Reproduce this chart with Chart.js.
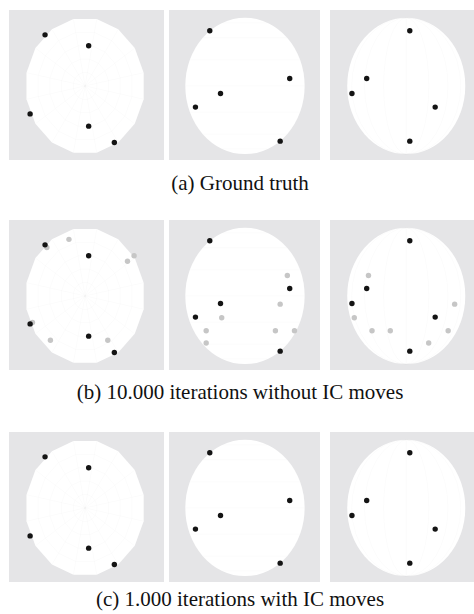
<!DOCTYPE html>
<html>
<head>
<meta charset="utf-8">
<script src="https://cdn.jsdelivr.net/npm/chart.js@4.4.1/dist/chart.umd.min.js"></script>
<style>
    body { margin: 0; background: #ffffff; width: 474px; height: 614px; position: relative; overflow: hidden; }
    canvas { position: absolute; }
    .caption { position: absolute; left: 0; width: 480px; text-align: center;
               font-family: "Liberation Serif", "DejaVu Serif", serif; font-size: 21px; line-height: 21px; color: #111; }
</style>
</head>
<body>
<div class="caption" style="top:173px">(a) Ground truth</div>
<div class="caption" style="top:382px">(b) 10.000 iterations without IC moves</div>
<div class="caption" style="top:589px">(c) 1.000 iterations with IC moves</div>
<script>
"use strict";

// points on the unit sphere: X right, Y up, Z depth
const truthX = [ 0.06, -0.67, -0.92,  0.49,  0.06];
const truthY = [ 0.81,  0.11, -0.11, -0.31, -0.81];
const truthZ = [-0.59,  0.75, -0.41, -0.83,  0.59];

// extra positions left after 10.000 iterations without IC moves (grey)
const noIcX = [-0.64,  0.82, -0.88, -0.58, -0.27,  0.71,  0.38];
const noIcY = [ 0.30, -0.12, -0.32, -0.51, -0.51, -0.51, -0.69];
const noIcZ = [ 0.71,  0.59, -0.39, -0.65,  0.83,  0.51, -0.65];

// result after 1.000 iterations with IC moves
const icX = [ 0.06, -0.67, -0.92,  0.49,  0.06];
const icY = [ 0.81,  0.11, -0.11, -0.31, -0.81];
const icZ = [-0.59,  0.75, -0.41, -0.83,  0.59];

// which two coordinates each column shows
const VIEWS = [
    { h: 'X', v: 'Z', mesh: 'pole' },  // top view
    { h: 'Z', v: 'Y', mesh: 'lat' },   // front view
    { h: 'X', v: 'Y', mesh: 'lon' },   // side view
];

const COLS = [
    { left: 9,   width: 155, cx: 85,    rx: 63 },
    { left: 169, width: 151, cx: 245,   rx: 63 },
    { left: 330, width: 144, cx: 406.5, rx: 62.5 },
];
const ROW_TOPS = [10, 220, 432];
const PANEL_H = 150;
const CY = 76, RY = 72;

const ROWS = [
    [ { X: truthX, Y: truthY, Z: truthZ, color: '#141414' } ],
    [ { X: truthX, Y: truthY, Z: truthZ, color: '#141414' },
      { X: noIcX,  Y: noIcY,  Z: noIcZ,  color: '#c6c6c6' } ],
    [ { X: icX, Y: icY, Z: icZ, color: '#141414' } ],
];

const sphereBackdrop = {
    id: 'sphereBackdrop',
    beforeDraw(chart, args, opts) {
        const ctx = chart.ctx;
        const sx = chart.scales.x, sy = chart.scales.y;
        const cx = sx.getPixelForValue(0), cy = sy.getPixelForValue(0);
        const rx = sx.getPixelForValue(1) - cx, ry = cy - sy.getPixelForValue(1);
        ctx.save();
        ctx.fillStyle = '#e5e5e7';
        ctx.fillRect(0, 0, chart.width, chart.height);
        ctx.fillStyle = '#ffffff';
        ctx.strokeStyle = 'rgba(0,0,0,0.025)';
        ctx.lineWidth = 0.7;
        const N = 16;
        if (opts.mesh === 'pole') {
            const vx = [], vy = [];
            for (let k = 0; k < N; k++) {
                const a = (k + 0.5) * 2 * Math.PI / N;
                vx.push(Math.cos(a)); vy.push(Math.sin(a));
            }
            ctx.beginPath();
            for (let k = 0; k < N; k++) {
                ctx.lineTo(cx + rx * vx[k], cy - ry * vy[k]);
            }
            ctx.closePath();
            ctx.fill();
            [0.2, 0.4, 0.6, 0.8].forEach(function (r) {
                ctx.beginPath();
                for (let k = 0; k < N; k++) ctx.lineTo(cx + rx * r * vx[k], cy - ry * r * vy[k]);
                ctx.closePath();
                ctx.stroke();
            });
            ctx.beginPath();
            for (let k = 0; k < N; k++) {
                ctx.moveTo(cx, cy);
                ctx.lineTo(cx + rx * vx[k], cy - ry * vy[k]);
            }
            ctx.stroke();
        } else {
            ctx.beginPath();
            ctx.ellipse(cx, cy, rx, ry, 0, 0, 2 * Math.PI);
            ctx.fill();
            ctx.beginPath();
            if (opts.mesh === 'lat') {
                for (let k = -3; k <= 3; k++) {
                    const s = Math.sin(k * Math.PI / 8), c = Math.cos(k * Math.PI / 8);
                    ctx.moveTo(cx - rx * c, cy - ry * s);
                    ctx.lineTo(cx + rx * c, cy - ry * s);
                }
            } else {
                for (let k = 1; k <= 3; k++) {
                    const w = Math.sin(k * Math.PI / 8) * rx;
                    ctx.moveTo(cx, cy - ry);
                    ctx.ellipse(cx, cy, w, ry, 0, -Math.PI / 2, Math.PI / 2, true);
                    ctx.moveTo(cx, cy - ry);
                    ctx.ellipse(cx, cy, w, ry, 0, -Math.PI / 2, Math.PI / 2, false);
                }
                ctx.moveTo(cx, cy - ry);
                ctx.lineTo(cx, cy + ry);
            }
            ctx.stroke();
        }
        ctx.restore();
    }
};

ROWS.forEach(function (sets, r) {
    VIEWS.forEach(function (view, c) {
        const col = COLS[c];
        const canvas = document.createElement('canvas');
        canvas.width = col.width;
        canvas.height = PANEL_H;
        canvas.style.left = col.left + 'px';
        canvas.style.top = ROW_TOPS[r] + 'px';
        document.body.appendChild(canvas);

        const datasets = sets.map(function (s, i) {
            return {
                data: s[view.h].map(function (h, k) { return { x: h, y: s[view.v][k] }; }),
                backgroundColor: s.color,
                borderWidth: 0,
                pointRadius: 2.7,
                order: i,
            };
        });

        new Chart(canvas.getContext('2d'), {
            type: 'scatter',
            data: { datasets: datasets },
            options: {
                responsive: false,
                animation: false,
                events: [],
                layout: { padding: 0 },
                scales: {
                    x: { display: false, min: (col.left - col.cx) / col.rx, max: (col.left + col.width - col.cx) / col.rx },
                    y: { display: false, min: -(PANEL_H - CY) / RY, max: CY / RY },
                },
                plugins: {
                    legend: { display: false },
                    tooltip: { enabled: false },
                    sphereBackdrop: { mesh: view.mesh },
                },
            },
            plugins: [sphereBackdrop],
        });
    });
});
</script>
</body>
</html>
